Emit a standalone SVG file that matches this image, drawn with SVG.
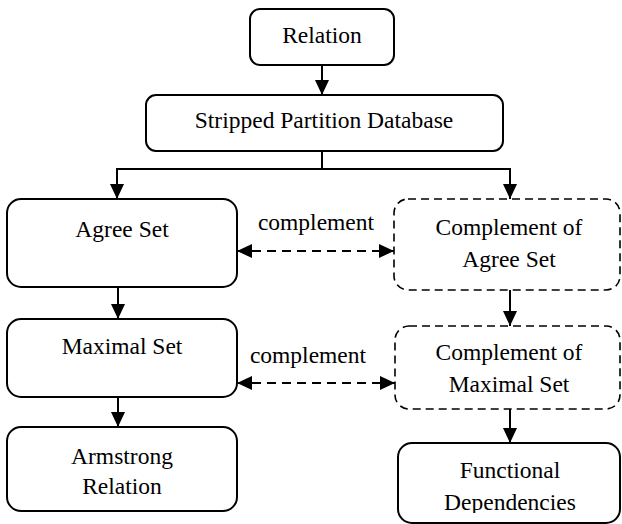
<svg xmlns="http://www.w3.org/2000/svg" width="622" height="524" viewBox="0 0 622 524">
  <style>
    .box { fill: #ffffff; stroke: #000000; stroke-width: 2; }
    .dbox { fill: #ffffff; stroke: #000000; stroke-width: 1.6; stroke-dasharray: 8 5; }
    .lbl { font-family: "Liberation Serif", "Times New Roman", "DejaVu Serif", serif; font-size: 23.5px; fill: #000000; text-anchor: middle; }
    .conn { fill: none; stroke: #000000; stroke-width: 2; }
    .dash { stroke-dasharray: 9 6; }
  </style>
  <defs>
    <marker id="arrow" markerUnits="userSpaceOnUse" markerWidth="16" markerHeight="14" refX="15" refY="7" orient="auto-start-reverse">
      <path d="M0,0 L15,7 L0,14 Z" fill="#000000"/>
    </marker>
    <clipPath id="clipFD">
      <rect x="0" y="0" width="622" height="513"/>
    </clipPath>
  </defs>

  <g id="connectors">
    <line class="conn" x1="322" y1="65" x2="322" y2="95" marker-end="url(#arrow)"/>
    <path class="conn" d="M322,151 V169 H117 V199" marker-end="url(#arrow)"/>
    <path class="conn" d="M322,169 H510 V199" marker-end="url(#arrow)"/>
    <line class="conn" x1="118" y1="287" x2="118" y2="319" marker-end="url(#arrow)"/>
    <line class="conn" x1="118" y1="397" x2="118" y2="427" marker-end="url(#arrow)"/>
    <line class="conn" x1="510" y1="290" x2="510" y2="326" marker-end="url(#arrow)"/>
    <line class="conn" x1="510" y1="409" x2="510" y2="443" marker-end="url(#arrow)"/>
    <line class="conn dash" x1="237" y1="251" x2="394" y2="251" marker-start="url(#arrow)" marker-end="url(#arrow)"/>
    <line class="conn dash" x1="237" y1="383" x2="395" y2="383" marker-start="url(#arrow)" marker-end="url(#arrow)"/>
    <text class="lbl" x="316" y="230">complement</text>
    <text class="lbl" x="308" y="363">complement</text>
  </g>

  <g id="relation">
    <rect class="box" x="250" y="9" width="144" height="56" rx="10"/>
    <text class="lbl" x="322" y="43">Relation</text>
  </g>

  <g id="stripped-partition-database">
    <rect class="box" x="146" y="95" width="357" height="56" rx="10"/>
    <text class="lbl" x="324" y="128">Stripped Partition Database</text>
  </g>

  <g id="agree-set">
    <rect class="box" x="7" y="199" width="230" height="88" rx="14"/>
    <text class="lbl" x="122" y="237">Agree Set</text>
  </g>

  <g id="complement-agree-set">
    <rect class="dbox" x="394" y="199" width="226" height="91" rx="14"/>
    <text class="lbl" x="509" y="235">Complement of</text>
    <text class="lbl" x="509" y="267">Agree Set</text>
  </g>

  <g id="maximal-set">
    <rect class="box" x="7" y="319" width="230" height="78" rx="14"/>
    <text class="lbl" x="122" y="354">Maximal Set</text>
  </g>

  <g id="complement-maximal-set">
    <rect class="dbox" x="395" y="326" width="225" height="83" rx="14"/>
    <text class="lbl" x="509" y="360">Complement of</text>
    <text class="lbl" x="509" y="392">Maximal Set</text>
  </g>

  <g id="armstrong-relation">
    <rect class="box" x="7" y="427" width="230" height="84" rx="14"/>
    <text class="lbl" x="122" y="464">Armstrong</text>
    <text class="lbl" x="122" y="494">Relation</text>
  </g>

  <g id="functional-dependencies">
    <rect class="box" x="398" y="443" width="222" height="80" rx="14"/>
    <text class="lbl" x="510" y="478">Functional</text>
    <text class="lbl" x="510" y="510" clip-path="url(#clipFD)">Dependencies</text>
  </g>
</svg>
